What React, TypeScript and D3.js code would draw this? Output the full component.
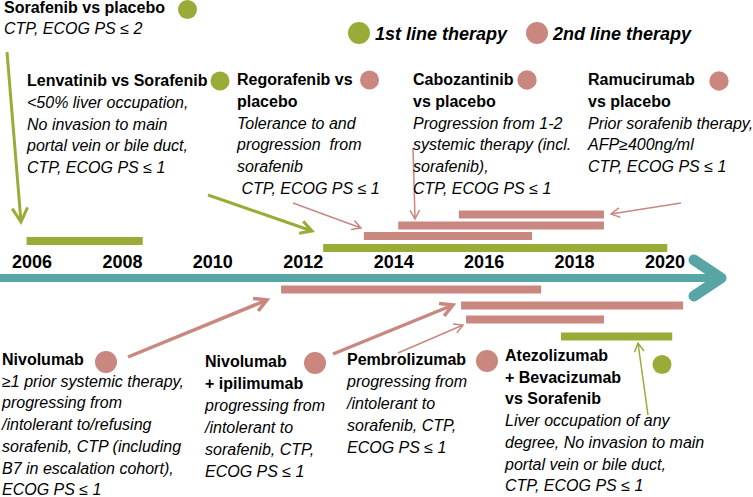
import React from 'react';
import * as d3 from 'd3';

// ---------- data ----------
const yearTicks = [2006, 2008, 2010, 2012, 2014, 2016, 2018, 2020];

const trialNames = [
  'Sorafenib vs placebo',
  'Lenvatinib vs Sorafenib',
  'Regorafenib vs placebo',
  'Cabozantinib vs placebo',
  'Ramucirumab vs placebo',
  'Nivolumab',
  'Nivolumab + ipilimumab',
  'Pembrolizumab',
  'Atezolizumab + Bevacizumab vs Sorafenib',
];
const therapyLine = [1, 1, 2, 2, 2, 2, 2, 2, 1];
const startYear = [2005.88, 2012.44, 2013.34, 2014.1, 2015.44, 2011.51, 2015.49, 2015.6, 2017.7];
const endYear = [2008.45, 2020.05, 2017.06, 2018.65, 2018.65, 2017.26, 2020.4, 2018.65, 2020.16];

const titleLines = [
  ['Sorafenib vs placebo'],
  ['Lenvatinib vs Sorafenib'],
  ['Regorafenib vs', 'placebo'],
  ['Cabozantinib', 'vs placebo'],
  ['Ramucirumab', 'vs placebo'],
  ['Nivolumab'],
  ['Nivolumab', '+ ipilimumab'],
  ['Pembrolizumab'],
  ['Atezolizumab', '+ Bevacizumab', 'vs Sorafenib'],
];
const criteriaLines = [
  ['CTP, ECOG PS \u2264 2'],
  ['<50% liver occupation,', 'No invasion to main', 'portal vein or bile duct,', 'CTP, ECOG PS \u2264 1'],
  ['Tolerance to and', 'progression  from', 'sorafenib', ' CTP, ECOG PS \u2264 1'],
  ['Progression from 1-2', 'systemic therapy (incl.', 'sorafenib),', 'CTP, ECOG PS \u2264 1'],
  ['Prior sorafenib therapy,', 'AFP\u2265400ng/ml', 'CTP, ECOG PS \u2264 1'],
  ['\u22651 prior systemic therapy,', 'progressing from', '/intolerant to/refusing', 'sorafenib, CTP (including', 'B7 in escalation cohort),', 'ECOG PS \u2264 1'],
  ['progressing from', '/intolerant to', 'sorafenib, CTP,', 'ECOG PS \u2264 1'],
  ['progressing from', '/intolerant to', 'sorafenib, CTP,', 'ECOG PS \u2264 1'],
  ['Liver occupation of any', 'degree, No invasion to main', 'portal vein or bile duct,', 'CTP, ECOG PS \u2264 1'],
];
const legendLabels = ['1st line therapy', '2nd line therapy'];

// ---------- layout & style ----------
const W = 753;
const H = 497;
const GREEN = '#9bab37';
const PINK = '#c9877f';
const TEAL = '#57a6a5';
const FONT = '"Liberation Sans", Arial, sans-serif';
const lineColor = (l: number) => (l === 1 ? GREEN : PINK);

const barTop = [237, 244, 232, 221.5, 210.5, 285.5, 301.5, 315.5, 332.5];
const barH = 8;

const textPos = [
  { x: 4, y: 13, lh: 21 },
  { x: 27, y: 86, lh: 21.8 },
  { x: 237, y: 85, lh: 21.8 },
  { x: 413, y: 85, lh: 21.8 },
  { x: 588, y: 85, lh: 21.8 },
  { x: 2, y: 365, lh: 21.7 },
  { x: 205, y: 367, lh: 22 },
  { x: 347, y: 365, lh: 22 },
  { x: 505, y: 361, lh: 21.7 },
];
const dotPos = [
  { x: 187.5, y: 9.5, r: 9.5 },
  { x: 220, y: 81, r: 9.5 },
  { x: 369.5, y: 80, r: 9.5 },
  { x: 527, y: 80, r: 9.7 },
  { x: 719, y: 81, r: 9.7 },
  { x: 106, y: 362, r: 11 },
  { x: 315, y: 363, r: 11 },
  { x: 487, y: 361, r: 11 },
  { x: 662, y: 364.5, r: 9.5 },
];
const arrows = [
  { x1: 7, y1: 52, x2: 21, y2: 222, w: 3, head: 16, c: GREEN },
  { x1: 293, y1: 203, x2: 361, y2: 228, w: 1.5, head: 10, c: PINK },
  { x1: 413, y1: 148, x2: 415, y2: 219, w: 1.5, head: 10, c: PINK },
  { x1: 681, y1: 203, x2: 611, y2: 214, w: 1.5, head: 10, c: PINK },
  { x1: 208, y1: 195, x2: 312, y2: 231, w: 3, head: 13, c: GREEN },
  { x1: 128, y1: 357, x2: 267, y2: 300, w: 3.5, head: 14, c: PINK },
  { x1: 333, y1: 354, x2: 453, y2: 305, w: 3.5, head: 14, c: PINK },
  { x1: 398, y1: 353, x2: 463, y2: 325, w: 1.5, head: 10, c: PINK },
  { x1: 648, y1: 415, x2: 638, y2: 343, w: 1.5, head: 10, c: GREEN },
];

const x = d3.scaleLinear().domain([2006, 2020]).range([32, 665]);

function arrowPath(x1: number, y1: number, x2: number, y2: number, head: number, spread = 0.5) {
  const ang = Math.atan2(y2 - y1, x2 - x1);
  const a1 = ang + Math.PI - spread;
  const a2 = ang + Math.PI + spread;
  return `M${x1},${y1}L${x2},${y2}M${x2 + head * Math.cos(a1)},${y2 + head * Math.sin(a1)}L${x2},${y2}L${x2 + head * Math.cos(a2)},${y2 + head * Math.sin(a2)}`;
}

export default function App() {
  return (
    <svg
      width={W}
      height={H}
      viewBox={`0 0 ${W} ${H}`}
      style={{ position: 'absolute', left: 0, top: 0, background: '#fff' }}
      fontFamily={FONT}
    >
      <rect x={0} y={0} width={W} height={H} fill="#fff" />

      {/* timeline axis */}
      <line x1={0} y1={278} x2={718} y2={278} stroke={TEAL} strokeWidth={8} />
      <path
        d="M694,260L721,278L694,296"
        fill="none"
        stroke={TEAL}
        strokeWidth={11}
        strokeLinecap="round"
        strokeLinejoin="round"
      />
      {yearTicks.map((yr) => (
        <text key={yr} x={x(yr)} y={268} textAnchor="middle" fontSize={18} fontWeight="bold" fill="#000">
          {yr}
        </text>
      ))}

      {/* trial bars */}
      {trialNames.map((n, i) => (
        <rect
          key={n}
          x={x(startYear[i])}
          y={barTop[i]}
          width={x(endYear[i]) - x(startYear[i])}
          height={barH}
          fill={lineColor(therapyLine[i])}
        />
      ))}

      {/* arrows */}
      {arrows.map((a, i) => (
        <path
          key={i}
          d={arrowPath(a.x1, a.y1, a.x2, a.y2, a.head)}
          fill="none"
          stroke={a.c}
          strokeWidth={a.w}
          strokeLinejoin="miter"
        />
      ))}

      {/* legend */}
      {legendLabels.map((l, i) => {
        const cx = i === 0 ? 359 : 537;
        return (
          <g key={l}>
            <circle cx={cx} cy={33} r={11} fill={lineColor(i + 1)} />
            <text x={cx + 16} y={40} fontSize={18} fontWeight="bold" fontStyle="italic" fill="#000">
              {l}
            </text>
          </g>
        );
      })}

      {/* trial annotations */}
      {trialNames.map((n, i) => {
        const p = textPos[i];
        const d = dotPos[i];
        const titles = titleLines[i];
        const crit = criteriaLines[i];
        return (
          <g key={'t' + n}>
            <circle cx={d.x} cy={d.y} r={d.r} fill={lineColor(therapyLine[i])} />
            {titles.map((t, j) => (
              <text
                key={'a' + j}
                x={p.x}
                y={p.y + j * p.lh}
                fontSize={16}
                fontWeight="bold"
                fill="#000"
                style={{ whiteSpace: 'pre' }}
              >
                {t}
              </text>
            ))}
            {crit.map((t, j) => (
              <text
                key={'b' + j}
                x={p.x}
                y={p.y + (titles.length + j) * p.lh}
                fontSize={16}
                fontStyle="italic"
                fill="#000"
                style={{ whiteSpace: 'pre' }}
              >
                {t}
              </text>
            ))}
          </g>
        );
      })}
    </svg>
  );
}
